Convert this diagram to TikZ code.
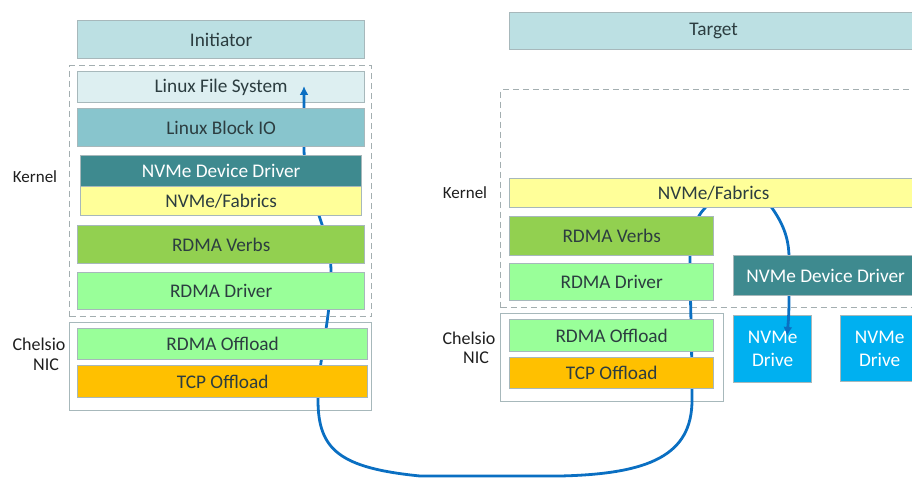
\documentclass[tikz,border=0pt]{standalone}
\usepackage{fontspec}
\setmainfont{Carlito}
\usetikzlibrary{arrows.meta}
\definecolor{boxline}{HTML}{A7B8BB}
\definecolor{txt}{HTML}{2C3D40}
\definecolor{lbl}{HTML}{1E1E1E}
\definecolor{hdr}{HTML}{BCE0E3}
\definecolor{lfs}{HTML}{DDEFF1}
\definecolor{blk}{HTML}{88C5CD}
\definecolor{nvdd}{HTML}{3E8A8F}
\definecolor{fab}{HTML}{FFFF99}
\definecolor{verbs}{HTML}{92D050}
\definecolor{lgreen}{HTML}{99FF99}
\definecolor{tcp}{HTML}{FFC000}
\definecolor{drive}{HTML}{00B0F0}
\definecolor{flow}{HTML}{0A6FC2}
\definecolor{frame}{HTML}{A3AEB0}
\begin{document}
\begin{tikzpicture}[x=1pt,y=-1pt,
  layerbox/.style={draw=boxline, line width=1.3pt, inner sep=0pt, anchor=north west,
    text=txt, font=\fontsize{19.3}{22}\selectfont},
  whitebox/.style={layerbox, text=white},
  dashframe/.style={draw=frame, line width=1.3pt, dash pattern=on 6pt off 4pt, inner sep=0pt, anchor=north west},
  solidframe/.style={draw=boxline, line width=1.3pt, inner sep=0pt, anchor=north west},
  sidelabel/.style={text=lbl, inner sep=0pt, font=\fontsize{17}{20}\selectfont},
  nicfont/.style={font=\fontsize{18}{20}\selectfont},
  flowline/.style={draw=flow, line width=2.8pt, line cap=round, {Latex[length=9pt,width=9pt]}-{Latex[length=9pt,width=9pt]}}
]
\useasboundingbox (0,0) rectangle (912,478);

% frames
\node[dashframe, minimum width=302pt, minimum height=251pt] (kernL) at (69,65) {};
\node[solidframe, minimum width=302pt, minimum height=88pt] (nicL) at (69,322) {};
\node[dashframe, minimum width=430pt, minimum height=218pt] (kernR) at (500,89) {};
\node[solidframe, minimum width=223pt, minimum height=88pt] (nicR) at (500,313) {};

% boxes under the flow line
\node[layerbox, fill=lfs, minimum width=287pt, minimum height=31pt] (lfsL) at (77,71) {Linux File System};
\node[whitebox, fill=drive, minimum width=78pt, minimum height=67pt, align=center,
  font=\fontsize{19.3}{23}\selectfont] (drv1) at (733,315) {NVMe\\Drive};

% flow line
\coordinate (upTip) at (304,86);
\coordinate (downTip) at (787,336);
\draw[flowline] (upTip) -- (304,150)
  .. controls (305,195) and (331,230) .. (331,272)
  .. controls (331,320) and (318,360) .. (318,400)
  .. controls (318,450) and (340,468) .. (420,476)
  -- (560,476)
  .. controls (650,474) and (692,455) .. (692,400)
  .. controls (692,340) and (690,300) .. (690,255)
  .. controls (690,235) and (695,218) .. (705,208)
  .. controls (725,185) and (755,185) .. (772,208)
  .. controls (784,225) and (789,240) .. (789,258)
  -- (789,300)
  .. controls (789,315) and (788,325) .. (downTip);

% initiator side
\node[layerbox, fill=hdr, minimum width=287pt, minimum height=38pt] (init) at (77,20) {Initiator};
\node[layerbox, fill=blk, minimum width=287pt, minimum height=38pt] (blkL) at (77,108) {Linux Block IO};
\node[whitebox, fill=nvdd, minimum width=281pt, minimum height=31pt] (nvddL) at (80,155) {NVMe Device Driver};
\node[layerbox, fill=fab, minimum width=281pt, minimum height=29pt] (fabL) at (80,186) {NVMe/Fabrics};
\node[layerbox, fill=verbs, minimum width=287pt, minimum height=38pt] (verbsL) at (77,225) {RDMA Verbs};
\node[layerbox, fill=lgreen, minimum width=287pt, minimum height=37pt] (drvL) at (77,272) {RDMA Driver};
\node[layerbox, fill=lgreen, minimum width=290pt, minimum height=31pt] (rofL) at (77,328) {RDMA Offload};
\node[layerbox, fill=tcp, minimum width=290pt, minimum height=32pt] (tcpL) at (77,365) {TCP Offload};

% target side
\node[layerbox, fill=hdr, minimum width=408pt, minimum height=37pt] (targ) at (509,12) {Target};
\node[layerbox, fill=fab, minimum width=408pt, minimum height=29pt] (fabR) at (509,178) {NVMe/Fabrics};
\node[layerbox, fill=verbs, minimum width=204pt, minimum height=39pt] (verbsR) at (509,216) {RDMA Verbs};
\node[layerbox, fill=lgreen, minimum width=204pt, minimum height=37pt] (drvR) at (509,263) {RDMA Driver};
\node[whitebox, fill=nvdd, minimum width=184pt, minimum height=40pt] (nvddR) at (733,255) {NVMe Device Driver};
\node[layerbox, fill=lgreen, minimum width=204pt, minimum height=32pt] (rofR) at (509,319) {RDMA Offload};
\node[layerbox, fill=tcp, minimum width=204pt, minimum height=31pt] (tcpR) at (509,357) {TCP Offload};
\node[whitebox, fill=drive, minimum width=78pt, minimum height=66pt, align=center,
  font=\fontsize{19.3}{23}\selectfont] (drv2) at (840,315) {NVMe\\Drive};

% side labels
\node[sidelabel] (kL) at (35,177) {Kernel};
\node[sidelabel, nicfont] (chL) at (39,344) {Chelsio};
\node[sidelabel, nicfont] (nicLt) at (46,365) {NIC};
\node[sidelabel] (kR) at (465,193) {Kernel};
\node[sidelabel, nicfont] (chR) at (469,338) {Chelsio};
\node[sidelabel, nicfont] (nicRt) at (476,358) {NIC};
\end{tikzpicture}
\end{document}
